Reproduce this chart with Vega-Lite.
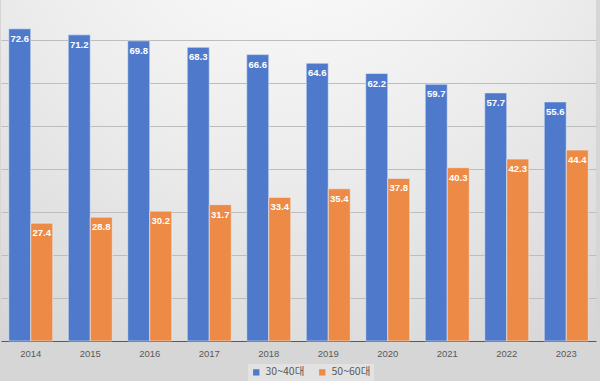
{
  "$schema": "https://vega.github.io/schema/vega-lite/v6.json",
  "width": 595,
  "height": 341,
  "padding": {"left": 1, "top": 0, "right": 4, "bottom": 0},
  "background": "#d6d6d6",
  "view": {
    "stroke": null,
    "fill": {
      "gradient": "radial",
      "x1": 0.5, "y1": 0.0, "r1": 0,
      "x2": 0.5, "y2": 0.0, "r2": 1.0,
      "stops": [
        {"offset": 0, "color": "#ffffff"},
        {"offset": 0.5, "color": "#ececec"},
        {"offset": 1, "color": "#d2d2d2"}
      ]
    }
  },
  "data": {
    "values": [
      {"year": "2014", "series": "30~40대", "value": 72.6},
      {"year": "2015", "series": "30~40대", "value": 71.2},
      {"year": "2016", "series": "30~40대", "value": 69.8},
      {"year": "2017", "series": "30~40대", "value": 68.3},
      {"year": "2018", "series": "30~40대", "value": 66.6},
      {"year": "2019", "series": "30~40대", "value": 64.6},
      {"year": "2020", "series": "30~40대", "value": 62.2},
      {"year": "2021", "series": "30~40대", "value": 59.7},
      {"year": "2022", "series": "30~40대", "value": 57.7},
      {"year": "2023", "series": "30~40대", "value": 55.6},
      {"year": "2014", "series": "50~60대", "value": 27.4},
      {"year": "2015", "series": "50~60대", "value": 28.8},
      {"year": "2016", "series": "50~60대", "value": 30.2},
      {"year": "2017", "series": "50~60대", "value": 31.7},
      {"year": "2018", "series": "50~60대", "value": 33.4},
      {"year": "2019", "series": "50~60대", "value": 35.4},
      {"year": "2020", "series": "50~60대", "value": 37.8},
      {"year": "2021", "series": "50~60대", "value": 40.3},
      {"year": "2022", "series": "50~60대", "value": 42.3},
      {"year": "2023", "series": "50~60대", "value": 44.4}
    ]
  },
  "encoding": {
    "x": {
      "field": "year", "type": "nominal",
      "scale": {"paddingInner": 0.26, "paddingOuter": 0.13},
      "axis": {
        "title": null, "labelAngle": 0, "ticks": false,
        "domainColor": "#595959", "domainWidth": 1.2,
        "labelColor": "#595959", "labelFontSize": 9.5, "labelFont": "Liberation Sans",
        "labelPadding": 7
      }
    },
    "xOffset": {"field": "series", "type": "nominal", "scale": {"paddingInner": 0.0}},
    "y": {
      "field": "value", "type": "quantitative",
      "scale": {"domain": [0, 79.3], "nice": false},
      "axis": {
        "title": null, "labels": false, "ticks": false, "domain": false,
        "values": [10, 20, 30, 40, 50, 60, 70],
        "gridColor": "#bdbdbd", "gridWidth": 1
      }
    }
  },
  "layer": [
    {
      "mark": {"type": "bar", "stroke": "#e8eef8", "strokeWidth": 0.6},
      "encoding": {
        "color": {
          "field": "series", "type": "nominal",
          "scale": {"domain": ["30~40대", "50~60대"], "range": ["#4f7acb", "#ed8a45"]},
          "legend": {
            "title": null, "orient": "none", "direction": "horizontal",
            "legendX": 247, "legendY": 364,
            "symbolType": "square", "symbolSize": 40, "symbolStrokeWidth": 0,
            "labelFontSize": 10.5, "labelColor": "#595959", "labelFont": "Noto Sans CJK KR",
            "columnPadding": 12, "padding": 3,
            "fillColor": "#e2e2e2"
          }
        }
      }
    },
    {
      "mark": {"type": "text", "baseline": "middle", "dy": 10, "color": "white", "fontWeight": "bold", "fontSize": 9.5, "font": "Liberation Sans"},
      "encoding": {
        "text": {"field": "value", "type": "quantitative", "format": ".1f"}
      }
    }
  ]
}
